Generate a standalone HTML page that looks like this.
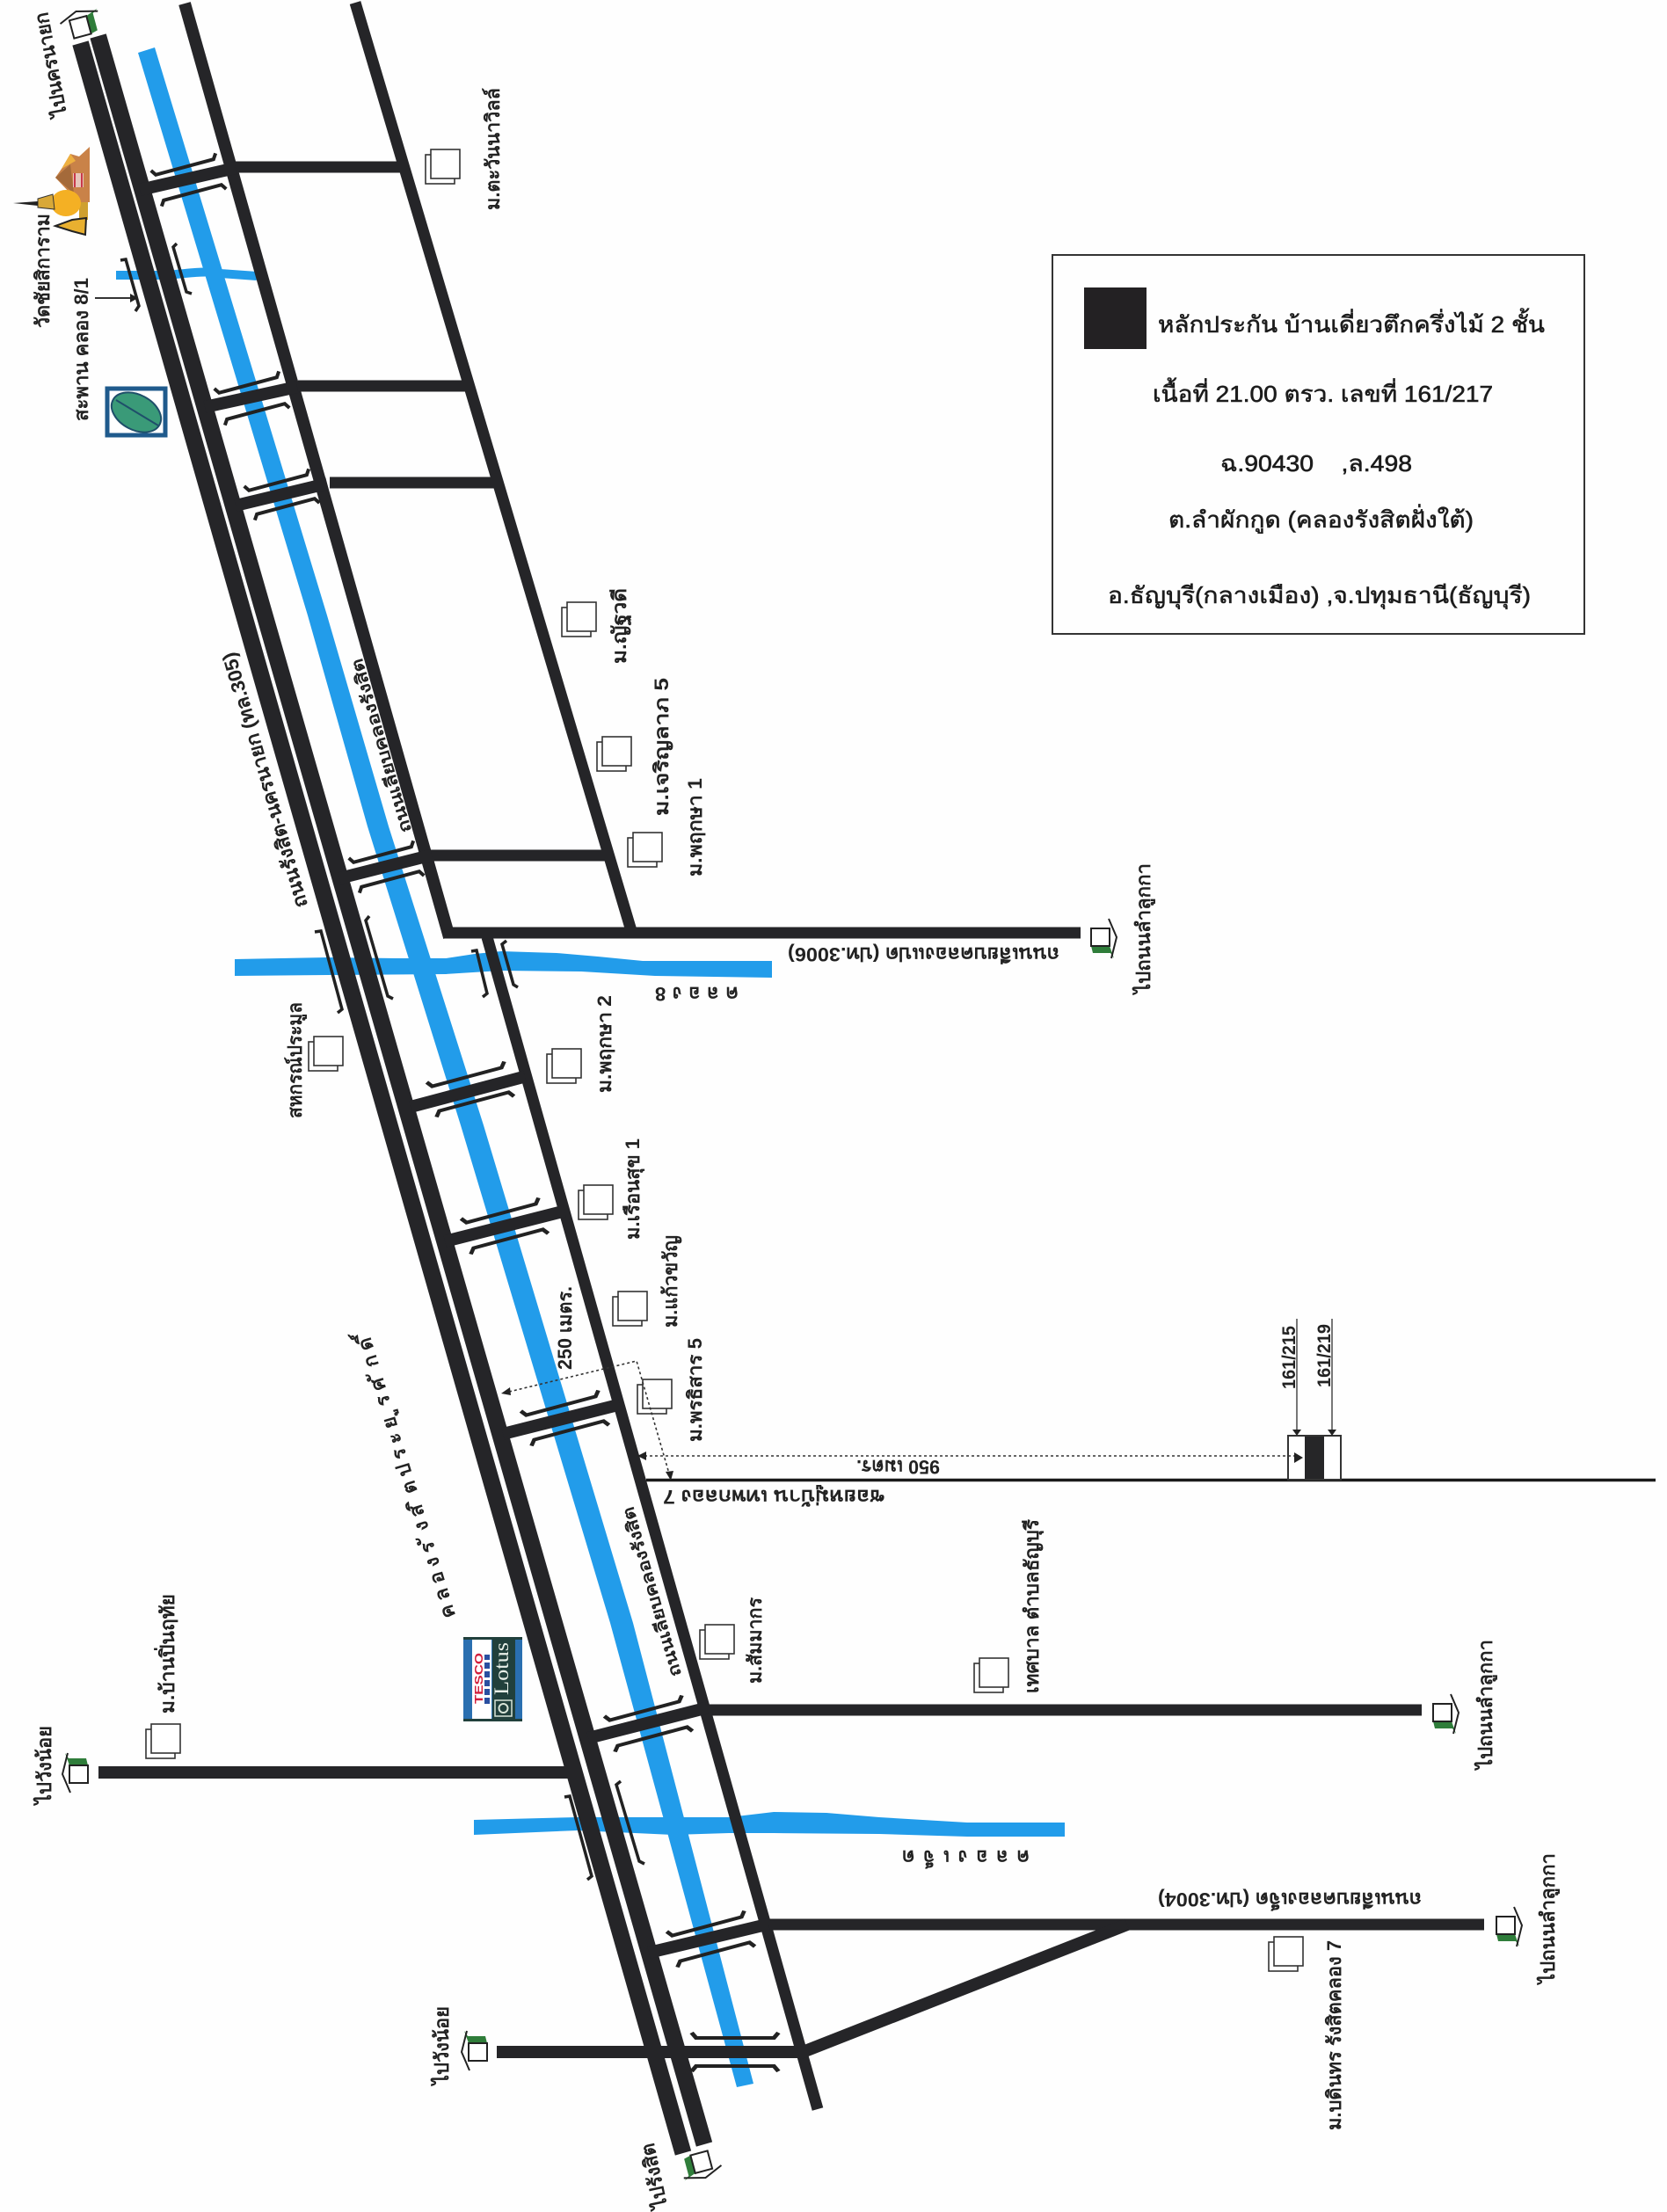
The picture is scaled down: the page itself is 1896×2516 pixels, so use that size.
<!DOCTYPE html>
<html lang="th"><head><meta charset="utf-8"><title>แผนที่</title>
<style>
html,body{margin:0;padding:0;background:#fefefe}
svg{display:block}
text{font-family:"Liberation Sans","Noto Sans CJK SC",sans-serif;fill:#222}
.l{font-size:22px;font-weight:bold}
.s{font-size:19px;font-weight:bold}
.n{font-size:26px;fill:#1c1c1c;stroke:#1c1c1c;stroke-width:.6px}
</style></head><body>
<svg xmlns="http://www.w3.org/2000/svg" width="1896" height="2516" viewBox="0 0 1896 2516">
<defs>
<path id="bu" d="M-38,-6 L-34,0 L34,0 L38,-6" fill="none" stroke="#222" stroke-width="4"/>
<path id="bl" d="M-38,6 L-34,0 L34,0 L38,6" fill="none" stroke="#222" stroke-width="4"/>
<g id="h"><rect x="-6" y="6" width="33" height="33" fill="#fff" stroke="#333" stroke-width="1.6"/><rect x="0" y="0" width="33" height="33" fill="#fff" stroke="#333" stroke-width="1.6"/></g>
<g id="ar"><polygon points="0,10 21,10 26,24 22,18 2,18" fill="#2f7d3a"/><rect x="0" y="-10" width="21" height="20" fill="#fff" stroke="#222" stroke-width="2"/><polyline points="20,-21 29,0 23,24" fill="none" stroke="#222" stroke-width="2"/></g>
</defs>

<!-- canals -->
<g fill="#229cea">
<polygon points="157,60 176,54 372,700 442,940 550,1280 720,1846 857,2370 838,2374 694,1846 524,1280 418,940 350,700"/>
<polygon points="267,1091 373,1089 450,1090 507,1090 540,1085 570,1082 633,1084 680,1088 731,1093 878,1093 878,1112 745,1110 661,1105 570,1104 507,1108 373,1109 267,1110"/>
<polygon points="539,2070 657,2067 727,2067 829,2067 880,2061 940,2062 1000,2067 1100,2073 1211,2073 1211,2089 1100,2089 1000,2086 880,2085 829,2085 766,2087 657,2082 539,2087"/>
</g>
<path d="M132,313 L190,313 C220,310 235,308 250,311 L292,314" fill="none" stroke="#229cea" stroke-width="10"/>

<!-- main road lanes + service roads -->
<g fill="none" stroke="#252528" stroke-linecap="butt" stroke-linejoin="miter">
<path d="M91.5,49 L777,2449" stroke-width="19"/>
<path d="M111.6,41 L801,2439" stroke-width="19"/>
<path d="M210,4 L511,1066" stroke-width="14"/>
<path d="M554,1066 L930,2399" stroke-width="13"/>
<path d="M404,3 L719,1062" stroke-width="13"/>
<!-- cross roads -->
<path d="M263,190 H455" stroke-width="13"/>
<path d="M339,439 H529" stroke-width="13"/>
<path d="M375,549 H562" stroke-width="13"/>
<path d="M489,973 H689" stroke-width="13"/>
<path d="M504,1061 H1229" stroke-width="13"/>
<path d="M798,1945 H1617" stroke-width="13"/>
<path d="M868,2189 H1688" stroke-width="13"/>
<path d="M112,2016 H650" stroke-width="14"/>
<path d="M565,2334 H912" stroke-width="14"/>
<path d="M908,2336 L1282,2189" stroke-width="14"/>
<!-- bridges -->
<path d="M159,216 L268,191" stroke-width="14"/>
<path d="M233,463 L338,440" stroke-width="14"/>
<path d="M268,575 L372,550" stroke-width="14"/>
<path d="M386,999 L491,972.5" stroke-width="14"/>
<path d="M467,1259 L597,1224.5" stroke-width="14"/>
<path d="M506,1412 L642,1377.5" stroke-width="14"/>
<path d="M572,1631 L705,1597.5" stroke-width="14"/>
<path d="M669,1977 L804,1942.5" stroke-width="14"/>
<path d="M738,2221 L874,2188.5" stroke-width="14"/>
<path d="M735,1683.5 H1883" stroke-width="3.5" stroke="#1a1a1a"/>
</g>

<!-- bridge brackets -->
<g>
<use href="#bu" transform="translate(210,190) rotate(-15)"/><use href="#bl" transform="translate(219,219) rotate(-15)"/>
<use href="#bu" transform="translate(282,438) rotate(-15)"/><use href="#bl" transform="translate(291,468) rotate(-15)"/>
<use href="#bu" transform="translate(316,549) rotate(-15)"/><use href="#bl" transform="translate(325,576) rotate(-15)"/>
<use href="#bu" transform="translate(435,972) rotate(-15)"/><use href="#bl" transform="translate(444,1000) rotate(-15)"/>
<use href="#bu" transform="translate(531,1225) rotate(-15) scale(1.2,1)"/><use href="#bl" transform="translate(539,1253) rotate(-15) scale(1.2,1)"/>
<use href="#bu" transform="translate(570,1380) rotate(-15) scale(1.2,1)"/><use href="#bl" transform="translate(578,1409) rotate(-15) scale(1.2,1)"/>
<use href="#bu" transform="translate(638,1599) rotate(-15) scale(1.2,1)"/><use href="#bl" transform="translate(647,1627) rotate(-15) scale(1.2,1)"/>
<use href="#bu" transform="translate(733,1946) rotate(-15) scale(1.2,1)"/><use href="#bl" transform="translate(742,1975) rotate(-15) scale(1.2,1)"/>
<use href="#bu" transform="translate(804,2191) rotate(-15) scale(1.2,1)"/><use href="#bl" transform="translate(813,2220) rotate(-15) scale(1.2,1)"/>
<use href="#bu" transform="translate(836,2318) scale(1.3,1)"/><use href="#bl" transform="translate(836,2350) scale(1.3,1)"/>
<g fill="none" stroke="#222" stroke-width="3.5">
<path d="M137,296 L143,295 L158,348 L154,354"/>
<path d="M201,277 L197,281 L212,332 L218,334"/>
<path d="M358,1060 L365,1059 L389,1148 L384,1152"/>
<path d="M420,1042 L416,1047 L441,1133 L447,1136"/>
<path d="M536,1082 L542,1081 L554,1130 L549,1134"/>
<path d="M576,1070 L571,1074 L584,1120 L589,1123"/>
<path d="M642,2044 L648,2043 L673,2134 L668,2138"/>
<path d="M706,2026 L701,2030 L727,2117 L733,2120"/>
</g>
</g>

<!-- building icons -->
<use href="#h" x="490" y="170"/><use href="#h" x="645" y="685"/><use href="#h" x="685" y="838"/>
<use href="#h" x="720" y="947"/><use href="#h" x="628" y="1193"/><use href="#h" x="664" y="1348"/>
<use href="#h" x="703" y="1469"/><use href="#h" x="731" y="1569"/><use href="#h" x="357" y="1179"/>
<use href="#h" x="802" y="1848"/><use href="#h" x="1114" y="1886"/><use href="#h" x="172" y="1961"/>
<use href="#h" x="1449" y="2203"/>

<!-- direction houses -->
<use href="#ar" transform="translate(94,41) rotate(-105)"/>
<use href="#ar" transform="translate(1241,1066)"/>
<use href="#ar" transform="translate(1630,1948)"/>
<use href="#ar" transform="translate(1702,2190)"/>
<use href="#ar" transform="translate(100,2018) rotate(180)"/>
<use href="#ar" transform="translate(554,2334) rotate(180)"/>
<use href="#ar" transform="translate(795,2449) rotate(75)"/>

<!-- temple -->
<rect x="90" y="228" width="10" height="22" fill="#cfa030"/>
<polygon points="102,167 90,178 80,175 70,192 63,202 80,220 90,230 102,230" fill="#c98248"/>
<polygon points="63,202 80,187 84,220" fill="#a46a3a"/>
<polygon points="70,192 80,175 86,183" fill="#eeb040"/>
<rect x="83" y="197" width="12" height="16" fill="#e8c6bc"/>
<path d="M85,197 V213 M93,197 V213" stroke="#c9384a" stroke-width="2"/>
<ellipse cx="75" cy="231" rx="17" ry="15" fill="#f4b024"/>
<polygon points="43,226 60,221 62,238 43,236" fill="#d8a838" stroke="#333" stroke-width="1"/>
<polygon points="15,231 43,229 43,234" fill="#222"/>
<polygon points="63,257 82,250 98,248 97,267 82,263" fill="#e8b030" stroke="#222" stroke-width="2"/>

<!-- leaf logo -->
<rect x="122" y="442" width="66" height="53" fill="#fff" stroke="#1f5a8c" stroke-width="5"/>
<ellipse cx="155" cy="469" rx="30" ry="20" transform="rotate(28 155 469)" fill="#3a9a78" stroke="#1f4f6a" stroke-width="2"/>
<path d="M132,455 L180,484" stroke="#1f4f6a" stroke-width="2"/>

<!-- tesco lotus -->
<rect x="527" y="1862" width="67" height="96" fill="#2a6fb0"/>
<rect x="527" y="1862" width="67" height="3" fill="#21403c"/>
<rect x="527" y="1955" width="67" height="3" fill="#21403c"/>
<rect x="537" y="1865" width="22" height="90" fill="#fff"/>
<rect x="560" y="1865" width="26" height="90" fill="#21403c"/>
<text transform="translate(549,1938) rotate(-90)" font-size="13" font-weight="bold" style="fill:#d21f3c" textLength="58" lengthAdjust="spacingAndGlyphs">TESCO</text>
<path d="M554,1938 V1882" stroke="#2a4fa0" stroke-width="6" stroke-dasharray="7 3"/>
<text transform="translate(578,1928) rotate(-90)" font-size="23" style="font-family:'Liberation Serif',serif;fill:#e8efe8" textLength="60" lengthAdjust="spacingAndGlyphs">Lotus</text>
<rect x="563" y="1934" width="19" height="18" fill="none" stroke="#d8e4d8" stroke-width="1.5"/>
<circle cx="572.5" cy="1943" r="5" fill="none" stroke="#d8e4d8" stroke-width="2"/>

<!-- legend -->
<rect x="1197" y="290" width="605" height="431" fill="none" stroke="#333" stroke-width="2"/>
<rect x="1233" y="327" width="71" height="70" fill="#232123"/>
<g class="n">
<text class="n" x="1317" y="378" textLength="440" lengthAdjust="spacingAndGlyphs">หลักประกัน บ้านเดี่ยวตึกครึ่งไม้ 2 ชั้น</text>
<text class="n" x="1311" y="457" textLength="387" lengthAdjust="spacingAndGlyphs">เนื้อที่ 21.00 ตรว.  เลขที่ 161/217</text>
<text class="n" x="1388" y="536" textLength="218" lengthAdjust="spacingAndGlyphs" xml:space="preserve">ฉ.90430    ,ล.498</text>
<text class="n" x="1329" y="600" textLength="347" lengthAdjust="spacingAndGlyphs">ต.ลำผักกูด (คลองรังสิตฝั่งใต้)</text>
<text class="n" x="1260" y="686" textLength="481" lengthAdjust="spacingAndGlyphs">อ.ธัญบุรี(กลางเมือง) ,จ.ปทุมธานี(ธัญบุรี)</text>
</g>

<!-- rotated labels -->
<g class="l">
<text class="l" transform="translate(76,131) rotate(-100.6)" textLength="120" lengthAdjust="spacingAndGlyphs">ไปนครนายก</text>
<text class="l" transform="translate(56,373) rotate(-90)" textLength="130" lengthAdjust="spacingAndGlyphs">วัดชัยสิการาม</text>
<text class="l" transform="translate(100,479) rotate(-90)" textLength="163" lengthAdjust="spacingAndGlyphs">สะพาน คลอง 8/1</text>
<text class="l" transform="translate(568,239) rotate(-90)" textLength="139" lengthAdjust="spacingAndGlyphs">ม.ตะวันนาวิลล์</text>
<text class="l" transform="translate(350,1030) rotate(-106)" textLength="301" lengthAdjust="spacingAndGlyphs">ถนนรังสิต-นครนายก (ทล.305)</text>
<text class="s" transform="translate(468,945) rotate(-106)" textLength="205" lengthAdjust="spacingAndGlyphs">ถนนเลียบคลองรังสิต</text>
<text class="s" transform="translate(775,1905) rotate(-106)" textLength="200" lengthAdjust="spacingAndGlyphs">ถนนเลียบคลองรังสิต</text>
<text class="l" transform="translate(712,755) rotate(-90)" textLength="86" lengthAdjust="spacingAndGlyphs">ม.ญัฐวดี</text>
<text class="l" transform="translate(760,928) rotate(-90)" textLength="157" lengthAdjust="spacingAndGlyphs">ม.เจริญลาภ 5</text>
<text class="l" transform="translate(798,997) rotate(-90)" textLength="112" lengthAdjust="spacingAndGlyphs">ม.พฤกษา 1</text>
<text class="l" transform="translate(1308,1130) rotate(-90)" textLength="148" lengthAdjust="spacingAndGlyphs">ไปถนนลำลูกกา</text>
<text class="l" transform="translate(1205,1078) rotate(180)" textLength="309" lengthAdjust="spacingAndGlyphs">ถนนเลียบคลองแปด (ปท.3006)</text>
<text class="l" transform="translate(840,1123) rotate(180)" textLength="95" lengthAdjust="spacing">ค ล อ ง 8</text>
<text class="l" transform="translate(343,1272) rotate(-90)" textLength="132" lengthAdjust="spacingAndGlyphs">สหกรณ์ประมูล</text>
<text class="l" transform="translate(695,1243) rotate(-90)" textLength="111" lengthAdjust="spacingAndGlyphs">ม.พฤกษา 2</text>
<text class="l" transform="translate(727,1410) rotate(-90)" textLength="115" lengthAdjust="spacingAndGlyphs">ม.เรือนสุข 1</text>
<text class="l" transform="translate(770,1510) rotate(-90)" textLength="105" lengthAdjust="spacingAndGlyphs">ม.แก้วขวัญ</text>
<text class="l" transform="translate(798,1640) rotate(-90)" textLength="118" lengthAdjust="spacingAndGlyphs">ม.พรธิสาร 5</text>
<text class="l" transform="translate(650,1558) rotate(-90)" textLength="95" lengthAdjust="spacingAndGlyphs">250 เมตร.</text>
<text class="l" transform="translate(1069,1661) rotate(180)" textLength="95" lengthAdjust="spacingAndGlyphs">950 เมตร.</text>
<text class="l" transform="translate(1006,1695) rotate(180)" textLength="252" lengthAdjust="spacingAndGlyphs">ซอยหมู่บ้าน เทพกลอง 7</text>
<text class="l" transform="translate(866,1915) rotate(-90)" textLength="98" lengthAdjust="spacingAndGlyphs">ม.สัมมากร</text>
<text class="l" transform="translate(1181,1926) rotate(-90)" textLength="198" lengthAdjust="spacingAndGlyphs">เทศบาล ตำบลธัญบุรี</text>
<text class="l" transform="translate(1697,2012) rotate(-90)" textLength="147" lengthAdjust="spacingAndGlyphs">ไปถนนลำลูกกา</text>
<text class="l" transform="translate(1171,2105) rotate(180)" textLength="145" lengthAdjust="spacing">ค ล อ ง เ จ็ ด</text>
<text class="l" transform="translate(1617,2153) rotate(180)" textLength="300" lengthAdjust="spacingAndGlyphs">ถนนเลียบคลองเจ็ด (ปท.3004)</text>
<text class="l" transform="translate(1525,2423) rotate(-90)" textLength="216" lengthAdjust="spacingAndGlyphs">ม.บดินทร รังสิตคลอง 7</text>
<text class="l" transform="translate(1768,2256) rotate(-90)" textLength="148" lengthAdjust="spacingAndGlyphs">ไปถนนลำลูกกา</text>
<text class="l" transform="translate(198,1949) rotate(-90)" textLength="136" lengthAdjust="spacingAndGlyphs">ม.บ้านปิ่นฤทัย</text>
<text class="l" transform="translate(58,2052) rotate(-90)" textLength="89" lengthAdjust="spacingAndGlyphs">ไปวังน้อย</text>
<text class="l" transform="translate(510,2371) rotate(-90)" textLength="89" lengthAdjust="spacingAndGlyphs">ไปวังน้อย</text>
<text class="l" transform="translate(759,2510) rotate(-102)" textLength="75" lengthAdjust="spacingAndGlyphs">ไปรังสิต</text>
<text class="l" transform="translate(518,1838) rotate(-107)" textLength="340" lengthAdjust="spacing">ค ล อ ง ร ั ง ส ิ ต ป ร ะ ย ู ร ศ ั ก ด ิ์</text>
<text transform="translate(1473,1580) rotate(-90)" font-size="21" textLength="72" lengthAdjust="spacingAndGlyphs">161/215</text>
<text transform="translate(1513,1578) rotate(-90)" font-size="21" textLength="72" lengthAdjust="spacingAndGlyphs">161/219</text>
</g>

<!-- lot block -->
<rect x="1465" y="1633" width="60" height="50" fill="#fff" stroke="#333" stroke-width="2"/>
<rect x="1484" y="1634" width="22" height="48" fill="#262628"/>

<!-- dimension lines -->
<g fill="none" stroke="#333" stroke-width="1.6" stroke-dasharray="3 3">
<path d="M579,1583 L724,1548 L761,1676"/>
<path d="M733,1656 H1474"/>
</g>
<path d="M1475,1500 V1626 M1515,1500 V1626" stroke="#555" stroke-width="1.6" fill="none"/>
<g fill="#222">
<polygon points="570,1585 580,1578 581,1587"/>
<polygon points="763,1684 757,1674 766,1673"/>
<polygon points="725,1656 735,1651 735,1661"/>
<polygon points="1482,1658 1472,1652 1472,1664"/>
<polygon points="1475,1633 1470,1626 1480,1626"/>
<polygon points="1515,1633 1510,1626 1520,1626"/>
</g>
<path d="M108,339 H150" stroke="#333" stroke-width="2"/><polygon points="157,339 148,334 148,344" fill="#222"/>
</svg>
</body></html>
